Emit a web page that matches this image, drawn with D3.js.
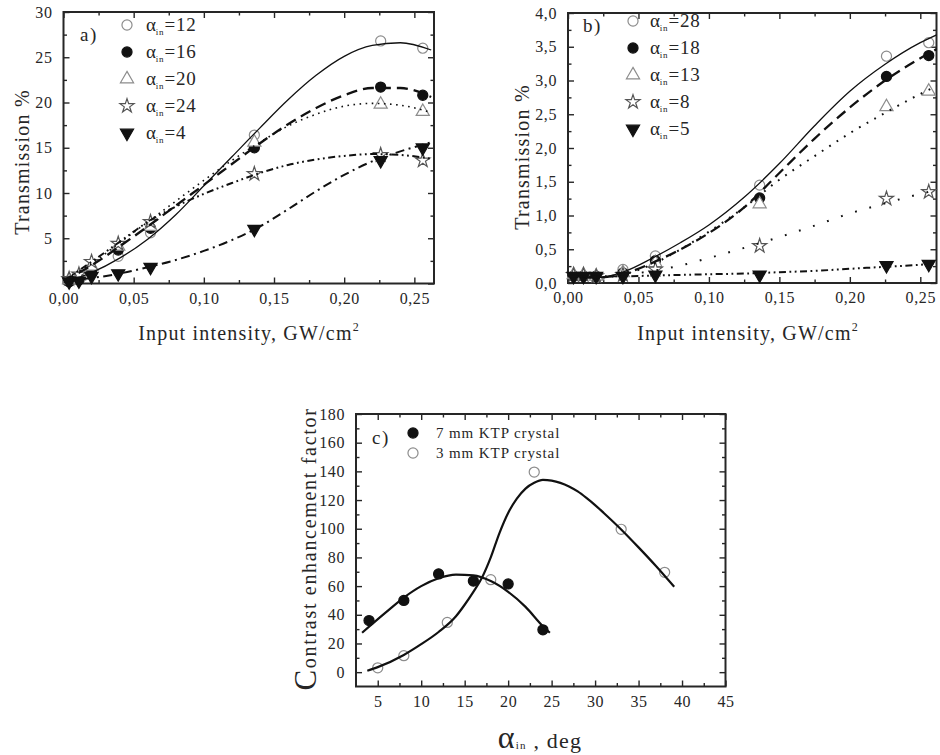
<!DOCTYPE html>
<html><head><meta charset="utf-8">
<script src="https://cdn.jsdelivr.net/npm/d3@7/dist/d3.min.js"></script>
<style>
body{margin:0;background:#fff;}
svg{display:block;font-family:"Liberation Serif","Times New Roman",serif;}
</style></head><body>
<svg id="fig" width="940" height="755"></svg>
<script>
// ---------- panel a: transmission vs input intensity ----------
const intensityA = [0.004, 0.011, 0.02, 0.039, 0.062, 0.136, 0.226, 0.256];
const transA12 = [0.3, 0.6, 1.6, 3.0, 5.6, 16.4, 26.8, 26.0];
const transA16 = [0.2, 0.4, 1.2, 3.7, 6.1, 15.0, 21.7, 20.8];
const transA20 = [0.4, 0.8, 1.9, 4.1, 6.3, 15.6, 19.8, 19.0];
const transA24 = [0.5, 1.0, 2.4, 4.4, 6.8, 12.1, 14.2, 13.6];
const transA4  = [0.2, 0.3, 0.8, 1.1, 1.8, 6.0, 13.6, 15.0];
// fitted curves, panel a
const fitXA   = [0, 0.02, 0.04, 0.06, 0.08, 0.10, 0.12, 0.14, 0.16, 0.18, 0.20, 0.22, 0.24, 0.262];
const fitA12  = [0.1, 1.2, 2.8, 4.9, 7.6, 10.8, 14.0, 17.2, 20.3, 23.0, 25.1, 26.3, 26.6, 25.8];
const fitA16  = [0.3, 2.0, 4.1, 6.3, 8.6, 10.9, 13.2, 15.5, 17.6, 19.4, 20.8, 21.6, 21.6, 20.6];
const fitA20  = [0.4, 2.2, 4.5, 6.8, 9.1, 11.4, 13.6, 15.6, 17.4, 18.7, 19.6, 19.9, 19.7, 18.9];
const fitA24  = [0.3, 2.4, 4.6, 6.8, 8.5, 9.9, 11.1, 12.2, 13.1, 13.7, 14.1, 14.3, 14.2, 13.8];
const fitA4   = [0.3, 0.6, 1.1, 1.8, 2.6, 3.6, 4.8, 6.3, 8.2, 10.2, 12.0, 13.5, 14.6, 15.6];
const legendA = ["12", "16", "20", "24", "4"];

// ---------- panel b ----------
const intensityB = [0.004, 0.011, 0.02, 0.039, 0.062, 0.136, 0.226, 0.256];
const transB28 = [0.10, 0.10, 0.08, 0.20, 0.40, 1.45, 3.36, 3.56];
const transB18 = [0.10, 0.10, 0.10, 0.15, 0.33, 1.26, 3.06, 3.37];
const transB13 = [0.12, 0.12, 0.10, 0.15, 0.30, 1.17, 2.61, 2.84];
const transB8  = [0.12, 0.12, 0.10, 0.12, 0.20, 0.55, 1.25, 1.35];
const transB5  = [0.10, 0.10, 0.10, 0.10, 0.12, 0.12, 0.26, 0.28];
const fitXB   = [0, 0.02, 0.04, 0.06, 0.08, 0.10, 0.125, 0.15, 0.175, 0.20, 0.225, 0.25, 0.262];
const fitB28  = [0.12, 0.08, 0.17, 0.37, 0.60, 0.86, 1.27, 1.77, 2.33, 2.84, 3.24, 3.56, 3.68];
const fitB18  = [0.12, 0.08, 0.14, 0.30, 0.50, 0.74, 1.12, 1.63, 2.14, 2.60, 3.00, 3.33, 3.47];
const fitB13  = [0.10, 0.08, 0.13, 0.28, 0.50, 0.76, 1.12, 1.53, 1.88, 2.22, 2.52, 2.80, 2.92];
const fitB8   = [0.10, 0.10, 0.12, 0.18, 0.26, 0.37, 0.52, 0.68, 0.85, 1.03, 1.18, 1.32, 1.38];
const fitB5   = [0.10, 0.10, 0.10, 0.11, 0.12, 0.13, 0.14, 0.16, 0.18, 0.21, 0.24, 0.27, 0.29];
const legendB = ["28", "18", "13", "8", "5"];

// ---------- panel c: contrast enhancement vs incidence angle ----------
const angle7 = [4, 8, 12, 16, 20, 24];
const contrast7 = [36, 50, 68.5, 63.5, 61.5, 29.5];
const angle3 = [5, 8, 13, 18, 23, 33, 38];
const contrast3 = [3, 11.5, 34.7, 64.5, 139.5, 99.6, 69.6];
const fitAngle7 = [3.2, 6, 8, 10, 12, 14, 16, 18, 20, 22, 24, 24.8];
const fitContrast7 = [27.5, 42, 52, 60, 65.5, 68, 67.5, 63.5, 56, 45.5, 32, 27.5];
const fitAngle3 = [3.8, 5, 8, 10, 12, 14, 15, 16, 17, 18, 19, 20, 21, 22, 23, 24, 25, 26, 27, 28, 29, 30, 31, 33, 35, 37, 39.1];
const fitContrast3 = [1, 3.5, 12, 19.5, 28, 39, 47, 56, 66, 80, 97, 111, 121, 128, 132, 134, 133.5, 132, 129.5, 126, 121.5, 116.5, 111, 99.5, 87, 74, 59.5];
const legendC = ["7 mm KTP crystal", "3 mm KTP crystal"];

// tick values
const ticksIntensity = [0, 0.05, 0.10, 0.15, 0.20, 0.25];
const minorIntensity = [0.025, 0.075, 0.125, 0.175, 0.225];
const ticksTransA = [0, 5, 10, 15, 20, 25, 30];
const minorTransA = [2.5, 7.5, 12.5, 17.5, 22.5, 27.5];
const ticksTransB = [0, 0.5, 1.0, 1.5, 2.0, 2.5, 3.0, 3.5, 4.0];
const minorTransB = [0.25, 0.75, 1.25, 1.75, 2.25, 2.75, 3.25, 3.75];
const ticksAngle = [5, 10, 15, 20, 25, 30, 35, 40, 45];
const minorAngle = [7.5, 12.5, 17.5, 22.5, 27.5, 32.5, 37.5, 42.5];
const ticksContrast = [0, 20, 40, 60, 80, 100, 120, 140, 160, 180];
const minorContrast = [10, 30, 50, 70, 90, 110, 130, 150, 170];

const svg = d3.select("#fig");
const INK = "#262626";
const OPEN = "#8c8c8c";
const defs = svg.append("defs");

const comma = f => v => d3.format(f)(v).replace(".", ",");

function panel(o) {
  const x = d3.scaleLinear().domain(o.xDomain).range([o.left, o.right]);
  const y = d3.scaleLinear().domain(o.yDomain).range([o.bottom, o.top]);
  const g = svg.append("g");
  defs.append("clipPath").attr("id", "clip-" + o.name)
    .append("rect").attr("x", o.left).attr("y", o.top)
    .attr("width", o.right - o.left).attr("height", o.bottom - o.top);

  const style = sel => {
    sel.select(".domain").remove();
    sel.selectAll(".tick line").attr("stroke", INK).attr("stroke-width", 1.4);
    sel.selectAll(".tick text").attr("fill", INK).attr("font-size", 16)
      .attr("font-family", "Liberation Serif, serif").attr("letter-spacing", 0.6);
  };
  // bottom
  g.append("g").attr("transform", `translate(0,${o.bottom})`)
    .call(d3.axisBottom(x).tickValues(o.xTicks).tickSize(-6).tickPadding(9).tickFormat(o.xFormat)).call(style);
  g.append("g").attr("transform", `translate(0,${o.bottom})`)
    .call(d3.axisBottom(x).tickValues(o.xMinor).tickSize(-3.5).tickFormat("")).call(style);
  // top
  g.append("g").attr("transform", `translate(0,${o.top})`)
    .call(d3.axisTop(x).tickValues(o.xTicks).tickSize(-6).tickFormat("")).call(style);
  g.append("g").attr("transform", `translate(0,${o.top})`)
    .call(d3.axisTop(x).tickValues(o.xMinor).tickSize(-3.5).tickFormat("")).call(style);
  // left
  g.append("g").attr("transform", `translate(${o.left},0)`)
    .call(d3.axisLeft(y).tickValues(o.yTicks).tickSize(-6).tickPadding(11).tickFormat(o.yFormat)).call(style);
  g.append("g").attr("transform", `translate(${o.left},0)`)
    .call(d3.axisLeft(y).tickValues(o.yMinor).tickSize(-3.5).tickFormat("")).call(style);
  // right
  g.append("g").attr("transform", `translate(${o.right},0)`)
    .call(d3.axisRight(y).tickValues(o.yTicks).tickSize(-6).tickFormat("")).call(style);
  g.append("g").attr("transform", `translate(${o.right},0)`)
    .call(d3.axisRight(y).tickValues(o.yMinor).tickSize(-3.5).tickFormat("")).call(style);
  // frame
  g.append("rect").attr("x", o.left).attr("y", o.top)
    .attr("width", o.right - o.left).attr("height", o.bottom - o.top)
    .attr("fill", "none").attr("stroke", INK).attr("stroke-width", 2);
  const plot = svg.append("g").attr("clip-path", `url(#clip-${o.name})`);
  return {x, y, g, plot};
}

// marker styles
const markers = {
  openCircle: {type: d3.symbolCircle, size: 80, fill: "#fff", stroke: OPEN, rot: 0},
  dot:        {type: d3.symbolCircle, size: 80, fill: "#111", stroke: "#111", rot: 0},
  openTri:    {type: d3.symbolTriangle, size: 75, fill: "#fff", stroke: OPEN, rot: 0},
  star:       {type: d3.symbolStar, size: 62, fill: "#fff", stroke: "#555", rot: 0},
  downTri:    {type: d3.symbolTriangle, size: 75, fill: "#111", stroke: "#111", rot: 180}
};

function drawMarker(sel, m, cx, cy) {
  sel.append("path")
    .attr("d", d3.symbol().type(m.type).size(m.size)())
    .attr("transform", `translate(${cx},${cy}) rotate(${m.rot})`)
    .attr("fill", m.fill).attr("stroke", m.stroke).attr("stroke-width", 1.2);
}

function drawSeries(p, xs, ys, m) {
  xs.forEach((v, i) => drawMarker(p.g, m, p.x(v), p.y(ys[i])));
}

function drawFit(p, xs, ys, dash, width) {
  const line = d3.line().x(d => p.x(d[0])).y(d => p.y(d[1])).curve(d3.curveMonotoneX);
  p.plot.append("path").datum(xs.map((v, i) => [v, ys[i]]))
    .attr("d", line).attr("fill", "none").attr("stroke", "#111")
    .attr("stroke-width", width).attr("stroke-dasharray", dash)
    .attr("stroke-linecap", "butt");
}

function alphaLegend(g, xs, xt, rows, labels, mks) {
  labels.forEach((lab, i) => {
    drawMarker(g, mks[i], xs, rows[i]);
    const t = g.append("text").attr("x", xt).attr("y", rows[i] + 6)
      .attr("fill", INK).attr("font-size", 19).attr("letter-spacing", 0.8);
    t.append("tspan").text("α");
    t.append("tspan").attr("font-size", 9).attr("dy", 4).attr("dx", -1).text("in");
    t.append("tspan").attr("dy", -4).text("=" + lab);
  });
}

function intensityLabel(cx) {
  const t = svg.append("text").attr("x", cx).attr("y", 340).attr("text-anchor", "middle")
    .attr("fill", INK).attr("font-size", 20).attr("letter-spacing", 1.2);
  t.append("tspan").text("Input intensity, GW/cm");
  t.append("tspan").attr("font-size", 12).attr("dy", -9).text("2");
}

function rotatedLabel(cx, cy, text) {
  svg.append("text").attr("transform", `translate(${cx},${cy}) rotate(-90)`)
    .attr("text-anchor", "middle").attr("fill", INK).attr("font-size", 20)
    .attr("letter-spacing", 1.2).text(text);
}

const order5 = [markers.openCircle, markers.dot, markers.openTri, markers.star, markers.downTri];
const legendRows = [25, 52, 79, 106, 133];

// ---------- draw panel a ----------
const pa = panel({name: "a", left: 63.5, right: 434, top: 12, bottom: 283.5,
  xDomain: [0, 0.264], yDomain: [0, 30],
  xTicks: ticksIntensity, xMinor: minorIntensity, xFormat: comma(".2f"),
  yTicks: ticksTransA, yMinor: minorTransA, yFormat: v => v === 0 ? "" : String(v)});
drawFit(pa, fitXA, fitA12, null, 1.3);
drawFit(pa, fitXA, fitA16, "11,6", 2.3);
drawFit(pa, fitXA, fitA20, "1.6,4.5", 1.6);
drawFit(pa, fitXA, fitA24, "7,3.5,1.8,3.5,1.8,3.5", 2);
drawFit(pa, fitXA, fitA4, "9,4.5,2,4.5", 2);
[transA12, transA16, transA20, transA24, transA4].forEach((s, i) => drawSeries(pa, intensityA, s, order5[i]));
alphaLegend(pa.g, 127, 146, legendRows, legendA, order5);
pa.g.append("text").attr("x", 80).attr("y", 41).attr("fill", INK).attr("font-size", 19)
  .attr("letter-spacing", 1.5).text("a)");
rotatedLabel(29, 162, "Transmission %");
intensityLabel(249);

// ---------- draw panel b ----------
const pb = panel({name: "b", left: 568, right: 936.5, top: 13, bottom: 283,
  xDomain: [0, 0.2615], yDomain: [0, 4],
  xTicks: ticksIntensity, xMinor: minorIntensity, xFormat: comma(".2f"),
  yTicks: ticksTransB, yMinor: minorTransB, yFormat: comma(".1f")});
drawFit(pb, fitXB, fitB28, null, 1.3);
drawFit(pb, fitXB, fitB18, "11,6", 2.3);
drawFit(pb, fitXB, fitB13, "1.8,7", 2);
drawFit(pb, fitXB, fitB8, "1.8,13", 2);
drawFit(pb, fitXB, fitB5, "7,3.5,1.8,3.5,1.8,3.5", 2);
[transB28, transB18, transB13, transB8, transB5].forEach((s, i) => drawSeries(pb, intensityB, s, order5[i]));
alphaLegend(pb.g, 633, 650, legendRows.map(v => v - 4), legendB, order5);
pb.g.append("text").attr("x", 583).attr("y", 32).attr("fill", INK).attr("font-size", 19)
  .attr("letter-spacing", 1.5).text("b)");
rotatedLabel(529, 157, "Transmission %");
intensityLabel(748);

// ---------- draw panel c ----------
const pc = panel({name: "c", left: 356, right: 725.5, top: 414, bottom: 686.5,
  xDomain: [2.5, 45], yDomain: [-10, 180],
  xTicks: ticksAngle, xMinor: minorAngle, xFormat: d3.format("d"),
  yTicks: ticksContrast, yMinor: minorContrast, yFormat: d3.format("d")});
drawFit(pc, fitAngle7, fitContrast7, null, 2.2);
drawFit(pc, fitAngle3, fitContrast3, null, 2.2);
drawSeries(pc, angle7, contrast7, markers.dot);
drawSeries(pc, angle3, contrast3, markers.openCircle);
[markers.dot, markers.openCircle].forEach((m, i) => {
  drawMarker(pc.g, m, 413, 433 + i * 20);
  pc.g.append("text").attr("x", 436).attr("y", 438 + i * 20).attr("fill", INK)
    .attr("font-size", 15).attr("letter-spacing", 0.9).text(legendC[i]);
});
pc.g.append("text").attr("x", 372).attr("y", 444).attr("fill", INK).attr("font-size", 19)
  .attr("letter-spacing", 1.5).text("c)");
{
  const t = svg.append("text").attr("transform", "translate(316,549) rotate(-90)")
    .attr("text-anchor", "middle").attr("fill", INK).attr("font-size", 20).attr("letter-spacing", 1.7);
  t.append("tspan").attr("font-size", 31).text("C");
  t.append("tspan").text("ontrast enhancement factor");
  const u = svg.append("text").attr("x", 540).attr("y", 748).attr("text-anchor", "middle")
    .attr("fill", INK).attr("font-size", 22).attr("letter-spacing", 1.2);
  u.append("tspan").attr("font-size", 32).text("α");
  u.append("tspan").attr("font-size", 11).attr("dy", 1).text("in");
  u.append("tspan").attr("dy", -1).text(" , deg");
}
</script>
</body></html>
